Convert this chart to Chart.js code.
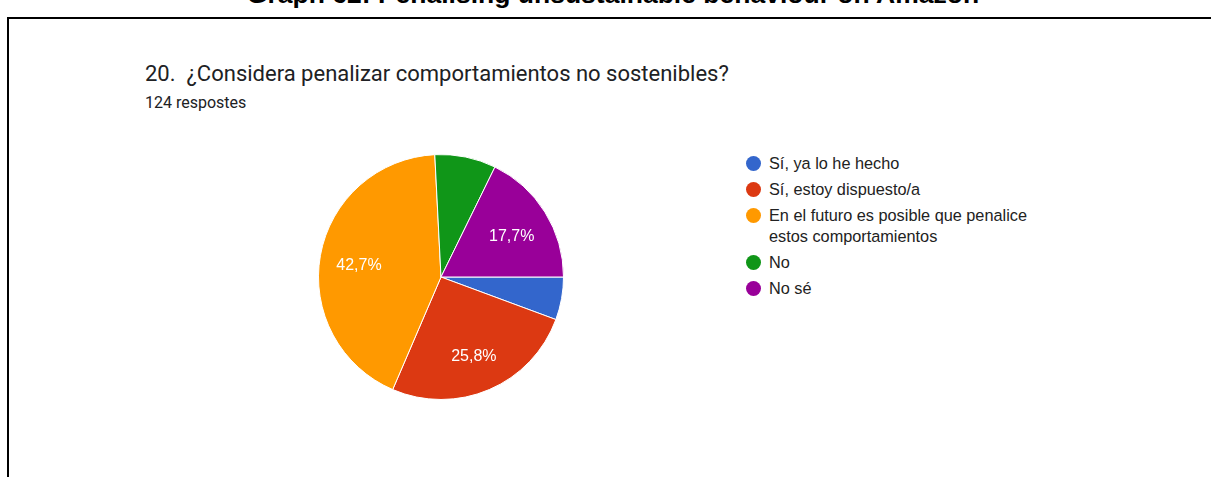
<!DOCTYPE html>
<html>
<head>
<meta charset="utf-8">
<script src="https://cdn.jsdelivr.net/npm/chart.js@4.4.0/dist/chart.umd.min.js"></script>
<style>
    body { margin: 0; width: 1211px; height: 477px; overflow: hidden; background: #fff; position: relative; }
    #graph-title {
        position: absolute; left: 0; width: 1226px; top: -21px; text-align: center;
        font: bold 26.5px "Liberation Sans", Arial, sans-serif; color: #000; white-space: nowrap;
    }
    #frame {
        position: absolute; left: 7px; top: 17px; width: 1300px; height: 600px;
        border-top: 2px solid #000; border-left: 2px solid #000;
    }
    #question {
        position: absolute; left: 145px; top: 61px;
        font: 22px Roboto, sans-serif; color: #202124; white-space: pre;
    }
    #answers {
        position: absolute; left: 145px; top: 93px;
        font: 16px Roboto, sans-serif; color: #202124;
    }
    #pie-box { position: absolute; left: 316px; top: 152px; width: 250px; height: 250px; }
    #legend {
        position: absolute; left: 746px; top: 153px; margin: 0; padding: 0; list-style: none;
        font: 16.3px "Liberation Sans", Arial, sans-serif; color: #222;
    }
    #legend li { display: flex; align-items: flex-start; margin-bottom: 5px; line-height: 21px; }
    #legend .dot { width: 15px; height: 15px; border-radius: 50%; margin-top: 3px; flex: none; }
    #legend .txt { margin-left: 8px; max-width: 280px; }
</style>
</head>
<body>
<div id="graph-title">Graph 62: Penalising unsustainable behaviour on Amazon</div>
<div id="frame"></div>
<div id="question">20.  ¿Considera penalizar comportamientos no sostenibles?</div>
<div id="answers">124 respostes</div>
<div id="pie-box"><canvas id="pie"></canvas></div>
<ul id="legend"></ul>
<script>
var answerLabels = [
    'Sí, ya lo he hecho',
    'Sí, estoy dispuesto/a',
    'En el futuro es posible que penalice estos comportamientos',
    'No',
    'No sé'
];
var answerCounts = [7, 32, 53, 10, 22];
var sliceColors = ['#3366cc', '#dc3912', '#ff9900', '#109618', '#990099'];

var total = answerCounts.reduce(function (a, b) { return a + b; }, 0);

function pct(v) {
    return (v / total * 100).toFixed(1).replace('.', ',') + '%';
}

// percent text inside the bigger slices
var sliceText = {
    id: 'sliceText',
    afterDatasetsDraw: function (chart) {
        var ctx = chart.ctx;
        var arcs = chart.getDatasetMeta(0).data;
        ctx.save();
        ctx.font = '16px "Liberation Sans", Arial, sans-serif';
        ctx.fillStyle = '#fff';
        ctx.textAlign = 'center';
        ctx.textBaseline = 'middle';
        arcs.forEach(function (arc, i) {
            var v = answerCounts[i];
            if (v / total < 0.1) return;
            var p = arc.getProps(['x', 'y', 'startAngle', 'endAngle', 'outerRadius'], true);
            var mid = (p.startAngle + p.endAngle) / 2;
            var r = p.outerRadius * 0.68;
            ctx.fillText(pct(v), p.x + Math.cos(mid) * r, p.y + Math.sin(mid) * r + 3.5);
        });
        ctx.restore();
    }
};

var pieChart = new Chart(document.getElementById('pie'), {
    type: 'pie',
    data: {
        labels: answerLabels,
        datasets: [{
            data: answerCounts,
            backgroundColor: sliceColors,
            borderColor: '#fff',
            borderWidth: 1
        }]
    },
    options: {
        responsive: true,
        maintainAspectRatio: false,
        animation: false,
        rotation: 90,
        layout: { padding: 2 },
        plugins: {
            legend: { display: false },
            tooltip: { enabled: false }
        }
    },
    plugins: [sliceText]
});

// legend next to the pie
var legendEl = document.getElementById('legend');
answerLabels.forEach(function (label, i) {
    var li = document.createElement('li');
    var dot = document.createElement('span');
    dot.className = 'dot';
    dot.style.background = sliceColors[i];
    var txt = document.createElement('span');
    txt.className = 'txt';
    txt.textContent = label;
    li.appendChild(dot);
    li.appendChild(txt);
    legendEl.appendChild(li);
});
</script>
</body>
</html>
